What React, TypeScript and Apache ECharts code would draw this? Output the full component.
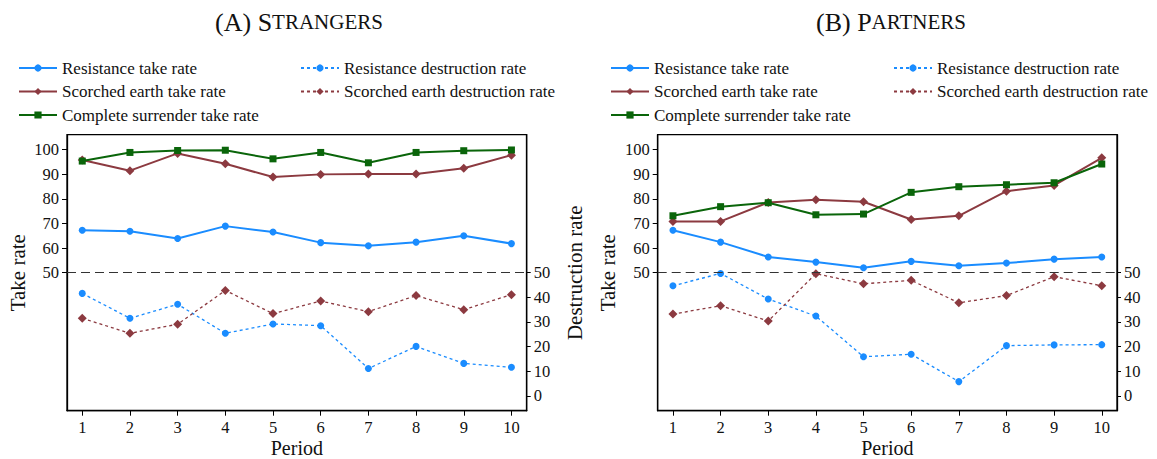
import React, { useEffect, useRef } from "react";
import * as echarts from "echarts";

const periods = [1, 2, 3, 4, 5, 6, 7, 8, 9, 10];
const takeTicks = [50, 60, 70, 80, 90, 100];
const destTicks = [0, 10, 20, 30, 40, 50];

// Panel A: Strangers
const strResTake = [67.2, 66.8, 63.9, 68.9, 66.5, 62.2, 60.9, 62.4, 65.0, 61.8];
const strScoTake = [95.7, 91.4, 98.4, 94.2, 88.8, 89.9, 90.1, 90.1, 92.4, 97.7];
const strSurTake = [95.3, 98.8, 99.6, 99.7, 96.2, 98.8, 94.6, 98.8, 99.5, 99.8];
const strResDest = [41.6, 31.5, 37.2, 25.4, 29.2, 28.5, 11.1, 20.1, 13.2, 11.6];
const strScoDest = [31.5, 25.4, 29.1, 42.8, 33.4, 38.5, 34.2, 40.7, 35.0, 41.1];

// Panel B: Partners
const parResTake = [67.2, 62.4, 56.4, 54.3, 52.0, 54.6, 52.8, 53.9, 55.5, 56.4];
const parScoTake = [70.8, 70.8, 78.5, 79.6, 78.8, 71.6, 73.1, 83.1, 85.4, 96.6];
const parSurTake = [73.1, 76.8, 78.4, 73.5, 73.8, 82.6, 84.9, 85.7, 86.5, 94.1];
const parResDest = [44.7, 49.7, 39.3, 32.4, 15.9, 16.9, 5.8, 20.4, 20.7, 20.8];
const parScoDest = [33.2, 36.6, 30.4, 49.6, 45.5, 46.9, 37.8, 40.7, 48.4, 44.7];

const names = [
  "Resistance take rate",
  "Scorched earth take rate",
  "Complete surrender take rate",
  "Resistance destruction rate",
  "Scorched earth destruction rate",
];

const BLUE = "#1a8cff";
const RED = "#8c3a40";
const GREEN = "#0a650a";
const FONT = "Liberation Serif";
const TXT = "#111";

function pts(vals: number[]) {
  return periods.map((p, i) => [p, vals[i]]);
}

export default function App() {
  const ref = useRef<HTMLDivElement>(null);
  useEffect(() => {
    if (!ref.current) return;
    const chart = echarts.init(ref.current, null, { renderer: "svg" });

    const styles = [
      { color: BLUE, type: "solid", width: 2, symbol: "circle", size: 7 },
      { color: RED, type: "solid", width: 2, symbol: "diamond", size: 9 },
      { color: GREEN, type: "solid", width: 2, symbol: "rect", size: 7 },
      { color: BLUE, type: [3, 3], width: 1.3, symbol: "circle", size: 7 },
      { color: RED, type: [3, 3], width: 1.3, symbol: "diamond", size: 9 },
    ];
    const panels = [
      [strResTake, strScoTake, strSurTake, strResDest, strScoDest],
      [parResTake, parScoTake, parSurTake, parResDest, parScoDest],
    ];

    const series: any[] = [];
    panels.forEach((data, g) => {
      styles.forEach((s, k) => {
        series.push({
          type: "line",
          name: names[k],
          xAxisIndex: g,
          yAxisIndex: g * 2,
          data: pts(data[k]),
          symbol: s.symbol,
          symbolSize: s.size,
          lineStyle: { color: s.color, width: s.width, type: s.type },
          itemStyle: { color: s.color },
          z: k >= 3 ? 2 : 3 + k,
          markLine:
            k === 0
              ? {
                  silent: true,
                  symbol: "none",
                  label: { show: false },
                  lineStyle: { color: "#333", type: [9, 5], width: 1 },
                  data: [{ yAxis: 50 }],
                }
              : undefined,
        });
      });
    });

    const grids = [
      { left: 67, top: 134.7, width: 459.7, height: 276 },
      { left: 657.7, top: 134.7, width: 459.3, height: 276 },
    ];

    const axisFont = { fontFamily: FONT, fontSize: 16.5, color: TXT };
    const nameFont = { fontFamily: FONT, fontSize: 21, color: TXT };
    const line = { show: true, onZero: false, lineStyle: { color: "#000", width: 1.3 } };

    const xAxis = grids.map((_, g) => ({
      type: "value",
      gridIndex: g,
      min: 0.68,
      max: 10.32,
      name: "Period",
      nameLocation: "middle",
      nameGap: 27,
      nameMoveOverlap: false,
      nameTextStyle: { ...nameFont, fontSize: 20 },
      axisLine: line,
      axisTick: { show: true, inside: false, length: 5, customValues: periods, lineStyle: { color: "#000" } },
      axisLabel: { margin: 8, customValues: periods, ...axisFont },
      splitLine: { show: false },
    }));

    const yAxis: any[] = [];
    grids.forEach((_, g) => {
      yAxis.push({
        type: "value",
        gridIndex: g,
        position: "left",
        min: -6,
        max: 106,
        name: "Take rate",
        nameLocation: "middle",
        nameGap: 39,
        nameTextStyle: nameFont,
        axisLine: line,
        axisTick: { show: true, inside: false, length: 5, customValues: takeTicks, lineStyle: { color: "#000" } },
        axisLabel: { margin: 8, customValues: takeTicks, ...axisFont },
        splitLine: { show: false },
      });
      yAxis.push({
        type: "value",
        gridIndex: g,
        position: "right",
        min: -6,
        max: 106,
        name: g === 0 ? "Destruction rate" : "",
        nameLocation: "middle",
        nameRotate: 90,
        nameGap: 38,
        nameTextStyle: nameFont,
        axisLine: line,
        axisTick: { show: true, inside: false, length: 4, customValues: destTicks, lineStyle: { color: "#000" } },
        axisLabel: { margin: 7, customValues: destTicks, ...axisFont },
        splitLine: { show: false },
      });
    });

    const legendBase = {
      orient: "vertical",
      top: 59,
      padding: 0,
      itemWidth: 38,
      itemHeight: 9,
      itemGap: 5.5,
      itemTextGap: 9,
      textStyle: { fontFamily: FONT, fontSize: 17, color: TXT, lineHeight: 18 },
      selectedMode: false,
    };
    const legend = [
      { ...legendBase, left: 18, data: names.slice(0, 3) },
      { ...legendBase, left: 300, data: names.slice(3) },
      { ...legendBase, left: 610, data: names.slice(0, 3) },
      { ...legendBase, left: 893, data: names.slice(3) },
    ];

    const titleRich = {
      a: { fontFamily: FONT, fontSize: 26, fill: TXT },
      b: { fontFamily: FONT, fontSize: 21, fill: TXT },
    };

    chart.setOption({
      animation: false,
      backgroundColor: "#fff",
      grid: grids.map((g) => ({
        ...g,
        show: true,
        borderColor: "#000",
        borderWidth: 1.3,
        backgroundColor: "transparent",
        containLabel: false,
        outerBoundsMode: "none",
      })),
      xAxis,
      yAxis,
      legend,
      series,
      graphic: [
        {
          type: "text",
          x: 299,
          y: 22,
          style: { text: "{a|(A) S}{b|TRANGERS}", rich: titleRich, align: "center", verticalAlign: "middle" },
        },
        {
          type: "text",
          x: 891,
          y: 22,
          style: { text: "{a|(B) P}{b|ARTNERS}", rich: titleRich, align: "center", verticalAlign: "middle" },
        },
      ],
    });
    return () => chart.dispose();
  }, []);
  return <div ref={ref} style={{ width: 1157, height: 459, position: "absolute", left: 0, top: 0 }} />;
}
